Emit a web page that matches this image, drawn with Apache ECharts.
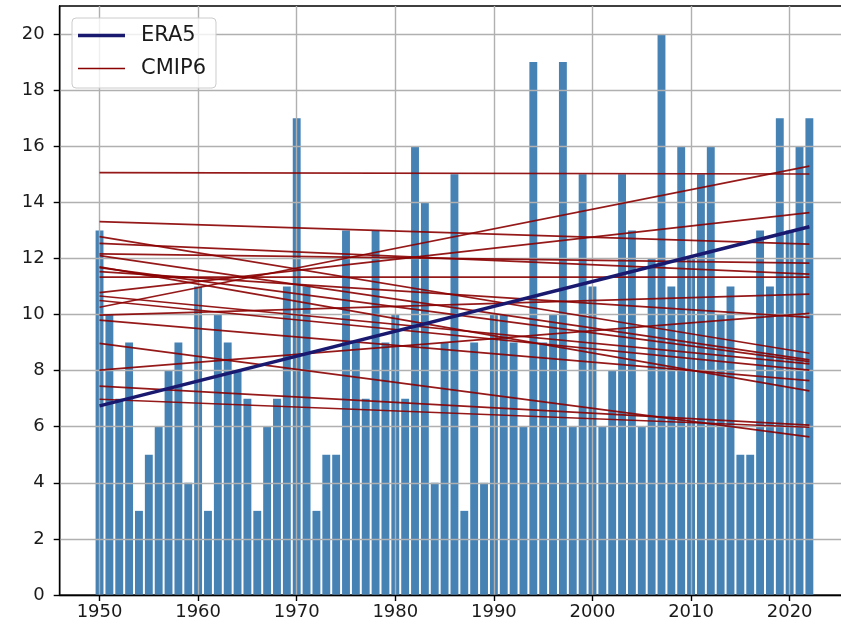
<!DOCTYPE html>
<html>
<head>
<meta charset="utf-8">
<script src="https://cdn.jsdelivr.net/npm/echarts@6/dist/echarts.min.js"></script>
<style>
  html, body { margin: 0; padding: 0; background: #ffffff; }
  #chart { width: 841px; height: 634px; }
</style>
</head>
<body>
<div id="chart"></div>
<script>
// Annual counts, 1950-2022
const years = [
  1950, 1951, 1952, 1953, 1954, 1955, 1956, 1957, 1958, 1959,
  1960, 1961, 1962, 1963, 1964, 1965, 1966, 1967, 1968, 1969,
  1970, 1971, 1972, 1973, 1974, 1975, 1976, 1977, 1978, 1979,
  1980, 1981, 1982, 1983, 1984, 1985, 1986, 1987, 1988, 1989,
  1990, 1991, 1992, 1993, 1994, 1995, 1996, 1997, 1998, 1999,
  2000, 2001, 2002, 2003, 2004, 2005, 2006, 2007, 2008, 2009,
  2010, 2011, 2012, 2013, 2014, 2015, 2016, 2017, 2018, 2019,
  2020, 2021, 2022
];
const counts = [
  13, 10, 7, 9, 3, 5, 6, 8, 9, 4,
  11, 3, 10, 9, 8, 7, 3, 6, 7, 11,
  17, 11, 3, 5, 5, 13, 9, 7, 13, 9,
  10, 7, 16, 14, 4, 9, 15, 3, 9, 4,
  10, 10, 9, 6, 19, 9, 10, 19, 6, 15,
  11, 6, 8, 15, 13, 6, 12, 20, 11, 16,
  12, 15, 16, 10, 11, 5, 5, 13, 11, 17,
  13, 16, 17
];

// Linear trends: values at the first and last year of the period
const trendYears = [1950, 2022];
const era5Trend = [6.74, 13.13];
const cmip6Start = [15.06, 10.26, 10.78, 13.31, 8.02, 8.97, 7.45, 6.98,
                    12.16, 12.54, 11.33, 9.98, 11.53, 12.78, 12.10, 11.67,
                    10.66, 10.50, 9.80, 11.70];
const cmip6End   = [15.01, 15.29, 13.63, 12.51, 10.04, 5.64, 6.06, 5.98,
                    11.83, 11.44, 11.33, 10.73, 9.90, 8.62, 8.38, 8.32,
                    8.24, 8.02, 7.64, 7.28];

// Axis ticks
const xTicks = [1950, 1960, 1970, 1980, 1990, 2000, 2010, 2020];
const yTicks = [0, 2, 4, 6, 8, 10, 12, 14, 16, 18, 20];

const X_MIN = 1945.96, X_MAX = 2026.04, Y_MIN = 0, Y_MAX = 21;
const GRID = { left: 59.7, top: 6, width: 789.5, height: 589 };
const barWidthPx = 0.8 * GRID.width / (X_MAX - X_MIN);

const FONT = 'DejaVu Sans';
const ERA5_COLOR = '#191970';
const CMIP6_COLOR = '#8b0000';
const ERA5_WIDTH = 3.4;
const CMIP6_WIDTH = 1.7;

const chart = echarts.init(document.getElementById('chart'), null, { renderer: 'canvas' });

const axisCommon = {
  type: 'value',
  z: 2,
  axisLine: { show: true, lineStyle: { color: '#000', width: 1.4 } },
  axisTick: { show: true, inside: false, length: 6, lineStyle: { color: '#000', width: 1.4 } },
  splitLine: { show: true, lineStyle: { color: '#b0b0b0', width: 1.4 } },
  axisLabel: { color: '#1a1a1a', fontSize: 18, fontFamily: FONT, formatter: v => String(v) }
};

const series = [];
series.push({
  type: 'bar',
  name: 'counts',
  data: years.map((y, i) => [y, counts[i]]),
  barWidth: barWidthPx,
  itemStyle: { color: '#4682b4' },
  z: 1,
  silent: true
});
series.push({
  type: 'line',
  name: 'ERA5',
  data: trendYears.map((y, i) => [y, era5Trend[i]]),
  symbol: 'none',
  lineStyle: { color: ERA5_COLOR, width: ERA5_WIDTH },
  itemStyle: { color: ERA5_COLOR },
  z: 4,
  silent: true
});
cmip6Start.forEach((s, i) => {
  series.push({
    type: 'line',
    name: 'CMIP6',
    data: [[trendYears[0], s], [trendYears[1], cmip6End[i]]],
    symbol: 'none',
    lineStyle: { color: CMIP6_COLOR, width: CMIP6_WIDTH, opacity: 0.9 },
    itemStyle: { color: CMIP6_COLOR },
    z: 3,
    silent: true
  });
});

// Legend keys drawn as plain line samples of the series' widths
const legendKey = w => 'path://M0,0H470V' + (w * 10) + 'H0Z';

chart.setOption({
  animation: false,
  backgroundColor: '#ffffff',
  grid: Object.assign({
    show: true, borderColor: '#000', borderWidth: 1.4,
    containLabel: false, outerBoundsMode: 'none'
  }, GRID),
  legend: {
    data: [
      { name: 'ERA5', icon: legendKey(ERA5_WIDTH), itemStyle: { color: ERA5_COLOR } },
      { name: 'CMIP6', icon: legendKey(CMIP6_WIDTH), itemStyle: { color: CMIP6_COLOR } }
    ],
    orient: 'vertical',
    left: 72, top: 18,
    padding: [7, 10, 9, 6],
    itemWidth: 47, itemHeight: 14, itemGap: 12,
    backgroundColor: 'rgba(255,255,255,0.8)',
    borderColor: '#cccccc', borderWidth: 1, borderRadius: 4,
    textStyle: { fontSize: 21, fontFamily: FONT, color: '#1a1a1a', padding: [0, 0, 0, 11] },
    z: 10
  },
  xAxis: Object.assign({}, axisCommon, {
    min: X_MIN, max: X_MAX,
    axisTick: Object.assign({}, axisCommon.axisTick, { customValues: xTicks }),
    axisLabel: Object.assign({}, axisCommon.axisLabel, { customValues: xTicks, margin: 8 })
  }),
  yAxis: Object.assign({}, axisCommon, {
    min: Y_MIN, max: Y_MAX,
    axisTick: Object.assign({}, axisCommon.axisTick, { customValues: yTicks }),
    axisLabel: Object.assign({}, axisCommon.axisLabel, { customValues: yTicks, margin: 15 })
  }),
  series: series
});
</script>
</body>
</html>
